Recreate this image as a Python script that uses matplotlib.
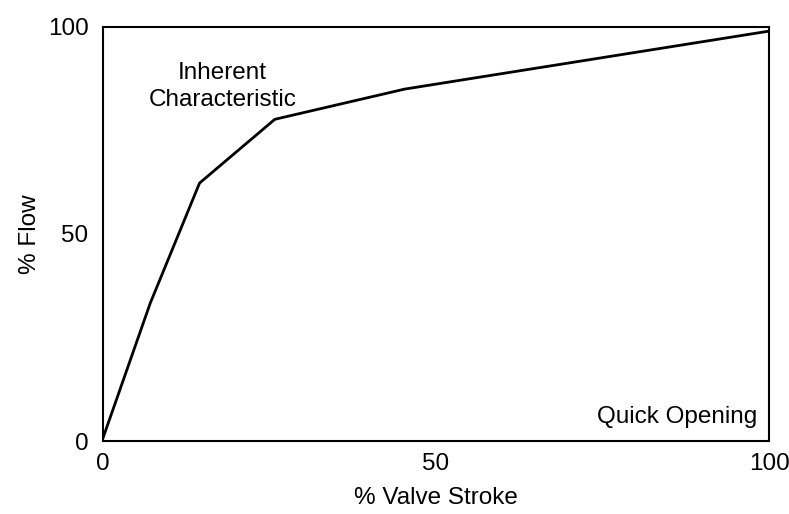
import matplotlib.pyplot as plt

plt.rcParams['font.family'] = ['Liberation Sans', 'DejaVu Sans']

# quick opening valve: flow vs. stroke
stroke = [0, 7.1, 14.5, 25.8, 45.3, 100]
flow = [0.7, 33.3, 62.3, 77.7, 85.0, 99.0]

fs = 17.5

fig = plt.figure(figsize=(7.89, 5.14), dpi=100)
ax = fig.add_axes([0.1305, 0.142, 0.8442, 0.8055])

ax.plot(stroke, flow, color='black', lw=2)

ax.set_xlim(0, 100)
ax.set_ylim(0, 100)
ax.set_xticks([0, 50, 100])
ax.set_yticks([0, 50, 100])
ax.tick_params(length=0, labelsize=fs)
ax.tick_params(axis='x', pad=8.5)
ax.tick_params(axis='y', pad=10.5)
for s in ax.spines.values():
    s.set_linewidth(1.5)

ax.set_xlabel('% Valve Stroke', fontsize=fs, labelpad=9)
ax.set_ylabel('% Flow', fontsize=fs, labelpad=5)

ax.text(17.9, 85.7, 'Inherent\nCharacteristic', fontsize=fs,
        ha='center', va='center', linespacing=1.3)
ax.text(98.2, 5.8, 'Quick Opening', fontsize=fs, ha='right', va='center')

fig.savefig('out.png', dpi=100)
